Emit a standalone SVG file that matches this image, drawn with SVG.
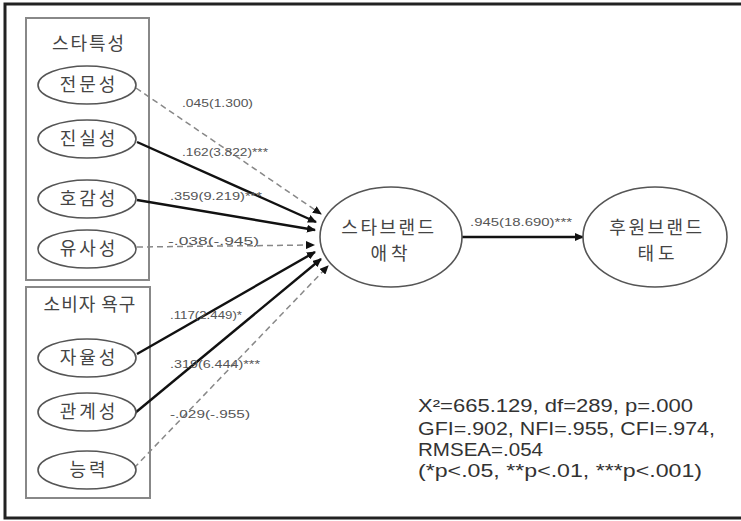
<svg xmlns="http://www.w3.org/2000/svg" width="741" height="521" viewBox="0 0 741 521">
<style>
.frame{fill:none;stroke:#222;stroke-width:3}
.box{fill:none;stroke:#888;stroke-width:2}
.el{fill:#fff;stroke:#555;stroke-width:1.6}
.kr{font-family:"Noto Sans CJK KR","Noto Sans",sans-serif;fill:#444;text-anchor:middle}
.lbl{font-family:"Liberation Sans",Arial,sans-serif;font-size:11px;fill:#555}
.stat{font-family:"Liberation Sans",Arial,sans-serif;font-size:18px;fill:#333}
.solid{fill:none;stroke:#111;stroke-width:2.4;marker-end:url(#ah)}
.dash{fill:none;stroke:#888;stroke-width:1.5;stroke-dasharray:6 4;marker-end:url(#ah)}
</style>
<defs>
<marker id="ah" markerUnits="userSpaceOnUse" markerWidth="9" markerHeight="8" refX="8" refY="4" orient="auto">
<path d="M0,0 L9,4 L0,8 Z" fill="#111"/>
</marker>
</defs>
<rect width="741" height="521" fill="#fff"/>
<rect class="frame" x="5" y="4" width="745" height="514"/>

<g id="group-star">
<rect class="box" x="26" y="18" width="123" height="262"/>
<text class="kr" x="89" y="50" font-size="18" letter-spacing="2">스타특성</text>
</g>
<g id="group-consumer">
<rect class="box" x="26" y="287" width="124" height="211"/>
<text class="kr" x="90" y="311" font-size="18" letter-spacing="1">소비자 욕구</text>
</g>

<g id="connectors">
<line class="dash" x1="136" y1="88" x2="321" y2="214"/>
<line class="solid" x1="137" y1="142" x2="316" y2="222"/>
<line class="solid" x1="137" y1="200" x2="315" y2="230"/>
<line class="dash" x1="137" y1="247" x2="314" y2="245"/>
<line class="solid" x1="137" y1="354" x2="315" y2="252"/>
<line class="solid" x1="135" y1="413" x2="321" y2="259"/>
<line class="dash" x1="134" y1="468" x2="328" y2="266"/>
<line class="solid" x1="462" y1="237" x2="583" y2="237"/>
</g>

<g id="edge-labels">
<text class="lbl" x="182" y="107" textLength="71" lengthAdjust="spacingAndGlyphs">.045(1.300)</text>
<text class="lbl" x="182" y="156" textLength="86" lengthAdjust="spacingAndGlyphs">.162(3.822)***</text>
<text class="lbl" x="170" y="200" textLength="92" lengthAdjust="spacingAndGlyphs">.359(9.219)***</text>
<text class="lbl" x="168" y="245" textLength="91" lengthAdjust="spacingAndGlyphs">-.038(-.945)</text>
<text class="lbl" x="170" y="319" textLength="72" lengthAdjust="spacingAndGlyphs">.117(2.449)*</text>
<text class="lbl" x="170" y="368" textLength="90" lengthAdjust="spacingAndGlyphs">.319(6.444)***</text>
<text class="lbl" x="170" y="418" textLength="80" lengthAdjust="spacingAndGlyphs">-.029(-.955)</text>
<text class="lbl" x="470" y="226" textLength="102" lengthAdjust="spacingAndGlyphs">.945(18.690)***</text>
</g>

<g id="n-expertise"><ellipse class="el" cx="87" cy="85" rx="49" ry="19"/><text class="kr" x="89" y="91" font-size="18" letter-spacing="3">전문성</text></g>
<g id="n-authenticity"><ellipse class="el" cx="87" cy="139" rx="49" ry="19"/><text class="kr" x="89" y="145" font-size="18" letter-spacing="3">진실성</text></g>
<g id="n-likability"><ellipse class="el" cx="87" cy="199" rx="49" ry="19"/><text class="kr" x="89" y="205" font-size="18" letter-spacing="3">호감성</text></g>
<g id="n-similarity"><ellipse class="el" cx="87" cy="249" rx="49" ry="19"/><text class="kr" x="89" y="255" font-size="18" letter-spacing="3">유사성</text></g>
<g id="n-autonomy"><ellipse class="el" cx="87" cy="358" rx="49" ry="19"/><text class="kr" x="89" y="364" font-size="18" letter-spacing="3">자율성</text></g>
<g id="n-relatedness"><ellipse class="el" cx="87" cy="412" rx="49" ry="19"/><text class="kr" x="89" y="418" font-size="18" letter-spacing="3">관계성</text></g>
<g id="n-competence"><ellipse class="el" cx="87" cy="470" rx="49" ry="19"/><text class="kr" x="89" y="476" font-size="18" letter-spacing="3">능력</text></g>

<g id="n-attachment"><ellipse class="el" cx="391" cy="237" rx="71" ry="50"/>
<text class="kr" x="389" y="234" font-size="18" letter-spacing="2.5">스타브랜드</text>
<text class="kr" x="391" y="260" font-size="18" letter-spacing="4">애착</text></g>
<g id="n-attitude"><ellipse class="el" cx="655" cy="237" rx="72" ry="50"/>
<text class="kr" x="657" y="234" font-size="18" letter-spacing="2.5">후원브랜드</text>
<text class="kr" x="658" y="260" font-size="18" letter-spacing="4">태도</text></g>

<g id="fit-stats">
<text class="stat" x="418" y="412" textLength="275" lengthAdjust="spacingAndGlyphs">X²=665.129, df=289, p=.000</text>
<text class="stat" x="418" y="435" textLength="297" lengthAdjust="spacingAndGlyphs">GFI=.902, NFI=.955, CFI=.974,</text>
<text class="stat" x="418" y="456" textLength="125" lengthAdjust="spacingAndGlyphs">RMSEA=.054</text>
<text class="stat" x="418" y="477" textLength="284" lengthAdjust="spacingAndGlyphs">(*p&lt;.05, **p&lt;.01, ***p&lt;.001)</text>
</g>
</svg>
